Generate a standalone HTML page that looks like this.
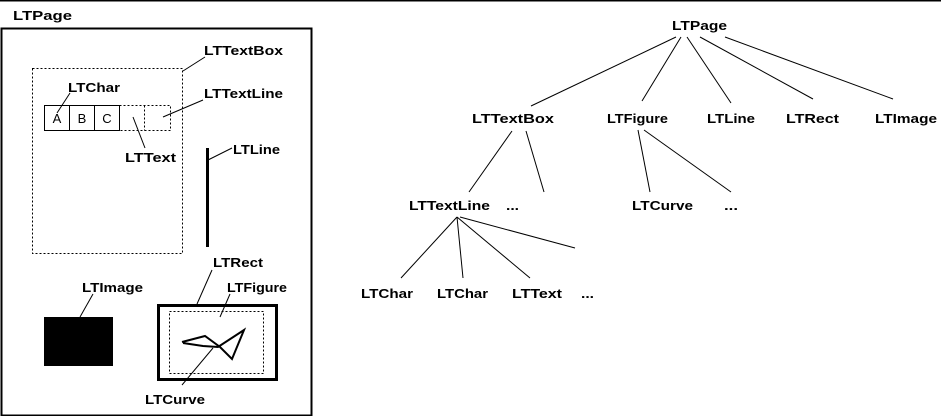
<!DOCTYPE html>
<html><head><meta charset="utf-8"><style>
html,body{margin:0;padding:0;background:#fff;}
svg{display:block;}
text{font-family:"Liberation Sans",Arial,sans-serif;font-weight:bold;font-size:13px;fill:#000;}
.r{font-weight:normal;font-size:13px;}
</style></head><body>
<svg width="941" height="416" viewBox="0 0 941 416" xmlns="http://www.w3.org/2000/svg">
<rect x="0" y="0" width="941" height="1.5" fill="#000"/>
<g stroke="#000" fill="none" stroke-width="1">
<rect x="1.5" y="28.5" width="310" height="387" stroke-width="2"/>
<rect x="32.5" y="68.5" width="150" height="185" stroke-dasharray="2,2"/>
<rect x="44.5" y="105.5" width="25" height="25"/>
<rect x="69.5" y="105.5" width="25" height="25"/>
<rect x="94.5" y="105.5" width="25" height="25"/>
<rect x="119.5" y="105.5" width="51" height="25" stroke-dasharray="2,2"/>
<line x1="144.5" y1="105.5" x2="144.5" y2="130.5" stroke-dasharray="2,2"/>
<line x1="183" y1="71" x2="205" y2="57"/>
<line x1="70" y1="93" x2="57" y2="113"/>
<line x1="163" y1="117" x2="203" y2="100"/>
<line x1="133" y1="117" x2="145" y2="148"/>
<line x1="208" y1="160" x2="232" y2="148"/>
<line x1="207.5" y1="148" x2="207.5" y2="247" stroke-width="3"/>
<line x1="197" y1="304" x2="212" y2="270"/>
<line x1="220" y1="317" x2="230" y2="294"/>
<rect x="158.5" y="305.5" width="118" height="74" stroke-width="3"/>
<rect x="169.5" y="311.5" width="94" height="62" stroke-dasharray="2,2"/>
<polyline points="182,342 205,336 220,347 232,359 244,330 218,347 203,346 183,343" stroke-width="2"/>
<line x1="182" y1="385" x2="213" y2="348"/>
<line x1="80" y1="317" x2="93" y2="294"/>
<line x1="676" y1="37" x2="531" y2="106"/>
<line x1="681" y1="37" x2="642" y2="101"/>
<line x1="687" y1="37" x2="731" y2="103"/>
<line x1="700" y1="37" x2="813" y2="99"/>
<line x1="725" y1="37" x2="893" y2="99"/>
<line x1="512" y1="131" x2="469" y2="192"/>
<line x1="526" y1="131" x2="544" y2="192"/>
<line x1="638" y1="130" x2="650" y2="192"/>
<line x1="644" y1="130" x2="731" y2="192"/>
<line x1="457" y1="217" x2="401" y2="278"/>
<line x1="457" y1="217" x2="463" y2="278"/>
<line x1="457" y1="217" x2="530" y2="278"/>
<line x1="460" y1="217" x2="575" y2="248"/>
</g>
<rect x="44" y="317" width="69" height="49" fill="#000"/>
<text x="13" y="20" textLength="59" lengthAdjust="spacingAndGlyphs">LTPage</text>
<text x="204" y="55" textLength="79" lengthAdjust="spacingAndGlyphs">LTTextBox</text>
<text x="68" y="92" textLength="52" lengthAdjust="spacingAndGlyphs">LTChar</text>
<text x="204" y="98" textLength="79" lengthAdjust="spacingAndGlyphs">LTTextLine</text>
<text x="125" y="162" textLength="51" lengthAdjust="spacingAndGlyphs">LTText</text>
<text x="233" y="154" textLength="47" lengthAdjust="spacingAndGlyphs">LTLine</text>
<text x="213" y="267" textLength="50" lengthAdjust="spacingAndGlyphs">LTRect</text>
<text x="227" y="292" textLength="60" lengthAdjust="spacingAndGlyphs">LTFigure</text>
<text x="82" y="292" textLength="61" lengthAdjust="spacingAndGlyphs">LTImage</text>
<text x="145" y="404" textLength="60" lengthAdjust="spacingAndGlyphs">LTCurve</text>
<text class="r" x="57" y="123" text-anchor="middle">A</text>
<text class="r" x="82" y="123" text-anchor="middle">B</text>
<text class="r" x="107" y="123" text-anchor="middle">C</text>
<text x="672" y="30" textLength="55" lengthAdjust="spacingAndGlyphs">LTPage</text>
<text x="472" y="123" textLength="82" lengthAdjust="spacingAndGlyphs">LTTextBox</text>
<text x="607" y="123" textLength="61" lengthAdjust="spacingAndGlyphs">LTFigure</text>
<text x="707" y="123" textLength="48" lengthAdjust="spacingAndGlyphs">LTLine</text>
<text x="786" y="123" textLength="53" lengthAdjust="spacingAndGlyphs">LTRect</text>
<text x="875" y="123" textLength="62" lengthAdjust="spacingAndGlyphs">LTImage</text>
<text x="409" y="210" textLength="81" lengthAdjust="spacingAndGlyphs">LTTextLine</text>
<text x="506" y="210" textLength="13" lengthAdjust="spacingAndGlyphs">...</text>
<text x="632" y="210" textLength="61" lengthAdjust="spacingAndGlyphs">LTCurve</text>
<text x="724" y="210" textLength="14" lengthAdjust="spacingAndGlyphs">...</text>
<text x="361" y="298" textLength="52" lengthAdjust="spacingAndGlyphs">LTChar</text>
<text x="437" y="298" textLength="51" lengthAdjust="spacingAndGlyphs">LTChar</text>
<text x="512" y="298" textLength="50" lengthAdjust="spacingAndGlyphs">LTText</text>
<text x="581" y="298" textLength="13" lengthAdjust="spacingAndGlyphs">...</text>
</svg>
</body></html>
